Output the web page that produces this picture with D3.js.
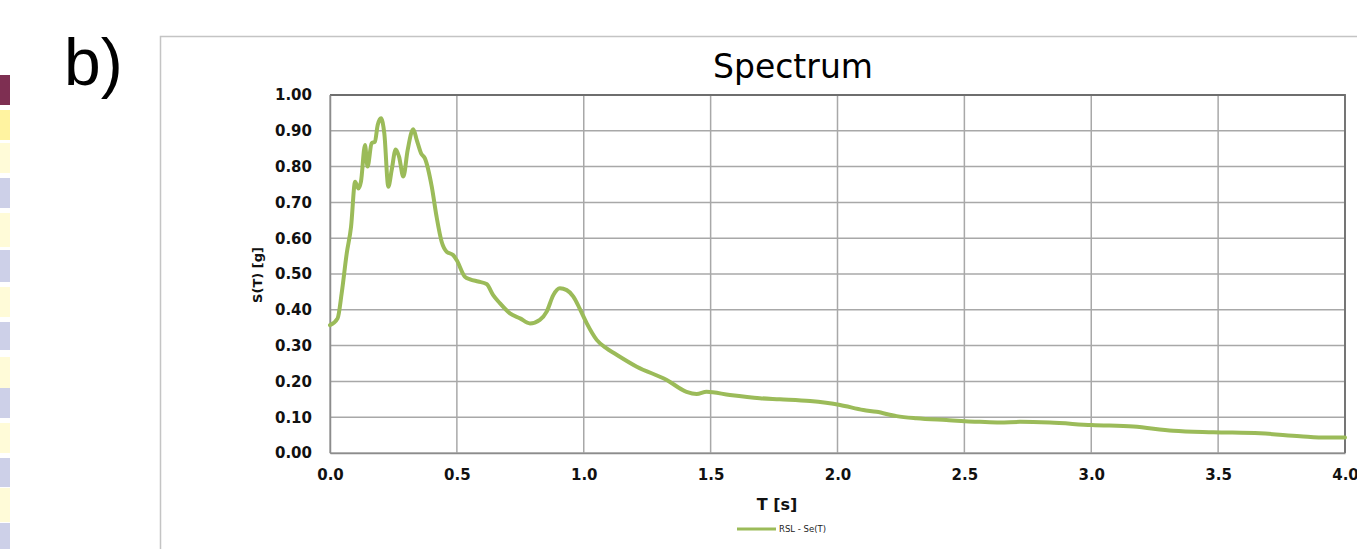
<!DOCTYPE html>
<html>
<head>
<meta charset="utf-8">
<script src="https://cdn.jsdelivr.net/npm/d3@7"></script>
<style>
  html, body { margin: 0; padding: 0; background: #ffffff; }
  svg { display: block; font-family: "DejaVu Sans", sans-serif; }
</style>
</head>
<body>
<svg id="chart" width="1357" height="549"></svg>
<script>
// ---- data ----
const periods = [0.000,0.030,0.046,0.066,0.083,0.099,0.112,0.122,0.138,0.148,0.164,0.177,0.188,0.201,0.214,0.230,0.243,0.259,0.272,0.289,0.306,0.328,0.342,0.359,0.374,0.401,0.420,0.440,0.460,0.485,0.499,0.532,0.552,0.584,0.617,0.643,0.670,0.709,0.749,0.788,0.827,0.854,0.880,0.906,0.933,0.959,0.985,1.012,1.051,1.090,1.117,1.209,1.327,1.405,1.445,1.484,1.576,1.694,1.773,1.892,2.010,2.102,2.154,2.233,2.311,2.429,2.561,2.640,2.719,2.837,3.002,3.166,3.323,3.481,3.665,3.823,3.928,4.000];
const spectrum = [0.357,0.376,0.446,0.558,0.632,0.758,0.739,0.758,0.860,0.800,0.865,0.870,0.916,0.935,0.893,0.744,0.790,0.848,0.828,0.772,0.846,0.904,0.874,0.837,0.823,0.744,0.660,0.590,0.562,0.553,0.539,0.492,0.485,0.479,0.472,0.441,0.418,0.390,0.376,0.362,0.372,0.395,0.441,0.460,0.455,0.437,0.402,0.362,0.316,0.292,0.280,0.241,0.204,0.171,0.165,0.171,0.162,0.153,0.150,0.145,0.134,0.120,0.115,0.103,0.097,0.092,0.087,0.085,0.087,0.085,0.078,0.074,0.062,0.058,0.055,0.047,0.043,0.043];
const xTicks = [0, 0.5, 1.0, 1.5, 2.0, 2.5, 3.0, 3.5, 4.0];
const yTicks = [0, 0.1, 0.2, 0.3, 0.4, 0.5, 0.6, 0.7, 0.8, 0.9, 1.0];
const titleText = "Spectrum";
const panelLabel = "b)";
const xTitle = "T [s]";
const yTitle = "S(T) [g]";
const seriesName = "RSL - Se(T)";
// decorative strip at the left edge (cropped neighbouring figure)
const stripColors = ["#7e2f52","#fff3a0","#fffbd8","#cdd0e8","#fffbd8","#cdd0e8","#fffbd8","#cdd0e8","#fffbd8","#cdd0e8","#fffbd8","#cdd0e8","#fffbd8","#cdd0e8"];
const stripTops = [75,110,143,178,213,250,287,322,357,388,423,458,488,523];
const stripBottoms = [105,140,173,208,247,282,317,350,388,418,453,487,522,549];

// ---- layout ----
const svg = d3.select("#chart");
const M = { left: 330, right: 1345, top: 95, bottom: 453 };

const x = d3.scaleLinear().domain([0, 4]).range([M.left, M.right]);
const y = d3.scaleLinear().domain([0, 1]).range([M.bottom, M.top]);

// left strip
svg.append("g").selectAll("rect").data(stripColors).join("rect")
  .attr("x", 0).attr("width", 10)
  .attr("y", (d, i) => stripTops[i])
  .attr("height", (d, i) => stripBottoms[i] - stripTops[i])
  .attr("fill", d => d);

// panel label
svg.append("text").attr("x", 64).attr("y", 85)
  .attr("font-family", "Liberation Sans, sans-serif")
  .attr("font-size", 66).attr("fill", "#000").text(panelLabel);

// chart frame
svg.append("path")
  .attr("d", "M160.5,549 L160.5,36.5 L1357,36.5")
  .attr("fill", "none").attr("stroke", "#c4c4c4").attr("stroke-width", 1.5);

// title
svg.append("text").attr("x", 793).attr("y", 78).attr("text-anchor", "middle")
  .attr("font-size", 33).attr("fill", "#000").text(titleText);

// grid
const grid = svg.append("g");
grid.selectAll("line.h").data(yTicks).join("line").attr("class", "h")
  .attr("x1", M.left).attr("x2", M.right)
  .attr("y1", d => y(d)).attr("y2", d => y(d))
  .attr("stroke", "#a8a8a8").attr("stroke-width", 1.5);
grid.selectAll("line.v").data(xTicks).join("line").attr("class", "v")
  .attr("y1", M.top).attr("y2", M.bottom)
  .attr("x1", d => x(d)).attr("x2", d => x(d))
  .attr("stroke", "#a8a8a8").attr("stroke-width", 1.5);

// plot border (top and right darker)
svg.append("path")
  .attr("d", `M${M.left},${M.top} L${M.right},${M.top} L${M.right},${M.bottom}`)
  .attr("fill", "none").attr("stroke", "#6e6e6e").attr("stroke-width", 1.8);

// axes
const yAxis = d3.axisLeft(y).tickValues(yTicks).tickFormat(d3.format(".2f")).tickSize(0).tickPadding(18);
const xAxis = d3.axisBottom(x).tickValues(xTicks).tickFormat(d3.format(".1f")).tickSize(0).tickPadding(16);

const gy = svg.append("g").attr("transform", `translate(${M.left},0)`).call(yAxis);
const gx = svg.append("g").attr("transform", `translate(0,${M.bottom})`).call(xAxis);
[gx, gy].forEach(g => {
  g.select(".domain").attr("stroke", "#8c8c8c").attr("stroke-width", 1.5);
  g.selectAll("text").attr("font-family", "DejaVu Sans, sans-serif")
    .attr("font-size", 15).attr("font-weight", "bold").attr("fill", "#111");
});

// axis titles
svg.append("text").attr("x", 777).attr("y", 510).attr("text-anchor", "middle")
  .attr("font-size", 16).attr("font-weight", "bold").attr("fill", "#111").text(xTitle);
svg.append("text").attr("transform", "translate(262,275) rotate(-90)")
  .attr("text-anchor", "middle")
  .attr("font-size", 13).attr("font-weight", "bold").attr("fill", "#111").text(yTitle);

// series
const pts = periods.map((t, i) => [t, spectrum[i]]);
const line = d3.line().x(d => x(d[0])).y(d => y(d[1])).curve(d3.curveMonotoneX);
svg.append("path").datum(pts).attr("d", line)
  .attr("fill", "none").attr("stroke", "#9bbb59").attr("stroke-width", 4)
  .attr("stroke-linejoin", "round").attr("stroke-linecap", "round");

// legend
svg.append("line").attr("x1", 737).attr("x2", 776).attr("y1", 529).attr("y2", 529)
  .attr("stroke", "#9bbb59").attr("stroke-width", 3);
svg.append("text").attr("x", 779).attr("y", 532)
  .attr("font-size", 8.5).attr("fill", "#222").text(seriesName);
</script>
</body>
</html>
